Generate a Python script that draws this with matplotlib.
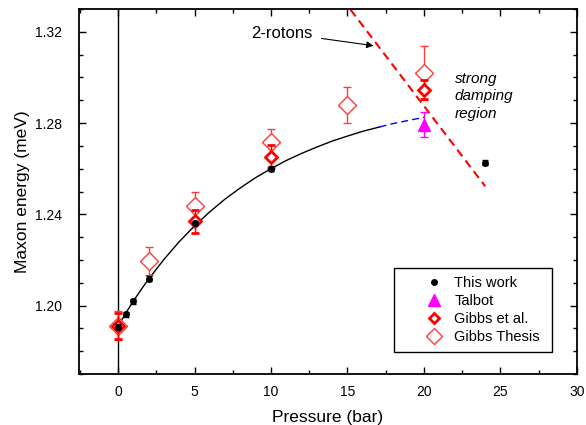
import matplotlib
matplotlib.use('Agg')
import matplotlib.pyplot as plt
from matplotlib.lines import Line2D
from matplotlib.ticker import MultipleLocator, FormatStrFormatter

plt.rcParams['font.family'] = ['Liberation Sans', 'DejaVu Sans']

# This work
work_p = [0, 0.5, 1, 2, 5, 10, 24]
work_e = [1.1908, 1.1962, 1.2019, 1.2118, 1.2361, 1.2600, 1.2627]
work_err = [0.001, 0.001, 0.001, 0.001, 0.001, 0.001, 0.001]

# Talbot
talbot_p = [20]
talbot_e = [1.2793]
talbot_err = [0.0056]

# Gibbs et al.
gibbs_p = [0, 5, 10, 20]
gibbs_e = [1.1911, 1.2369, 1.2653, 1.2947]
gibbs_err = [0.0057, 0.005, 0.005, 0.004]

# Gibbs Thesis
thesis_p = [0, 2, 5, 10, 15, 20]
thesis_e = [1.1911, 1.2196, 1.2437, 1.2715, 1.2879, 1.3020]
thesis_err = [0.0063, 0.006, 0.006, 0.006, 0.008, 0.012]

# fit curve (solid part) and its extrapolation (dashed blue)
fit_p = [0, 0.5, 1, 1.5, 2, 3, 4, 5, 6, 7, 8, 9, 10, 11, 12, 13, 14, 15, 16, 17.1]
fit_e = [1.1910, 1.1966, 1.2019, 1.2069, 1.2116, 1.2202, 1.2280, 1.2349, 1.2411,
         1.2467, 1.2516, 1.2561, 1.2600, 1.2636, 1.2667, 1.2695, 1.2721, 1.2743,
         1.2764, 1.2783]
ext_p = [17.1, 18, 19, 20]
ext_e = [1.2783, 1.2798, 1.2812, 1.2825]

# 2-roton line
rotons_p = [15.2, 24.0]
rotons_e = [1.3297, 1.2523]

fig = plt.figure(figsize=(5.86, 4.25), dpi=100)
ax = fig.add_axes([0.1348, 0.12, 0.8498, 0.8588])

ax.axvline(0, color='black', lw=1)
ax.plot(fit_p, fit_e, color='black', lw=1)
ax.plot(ext_p, ext_e, color='blue', lw=1, dashes=(5, 3))
ax.plot(rotons_p, rotons_e, color='red', lw=1.5, dashes=(4, 2.5))

thesis_col = '#ff3b3b'
ax.errorbar(thesis_p, thesis_e, yerr=thesis_err, fmt='D', ms=9.5, mfc='white',
            mec=thesis_col, mew=1, color=thesis_col, ecolor=thesis_col,
            elinewidth=1, capsize=3, capthick=1, zorder=3)
ax.errorbar(gibbs_p, gibbs_e, yerr=gibbs_err, fmt='D', ms=6, mfc='white',
            mec='red', mew=2, ecolor='red', elinewidth=1, capsize=3,
            capthick=1, zorder=4)
ax.errorbar(talbot_p, talbot_e, yerr=talbot_err, fmt='^', ms=8, color='magenta',
            ecolor='magenta', elinewidth=1, capsize=3, capthick=1, zorder=5)
ax.errorbar(work_p, work_e, yerr=work_err, fmt='o', ms=4, color='black',
            ecolor='black', elinewidth=1, capsize=2.5, capthick=1, zorder=6)

ax.text(10.72, 1.3192, '2-rotons', fontsize=12, ha='center', va='center')
ax.annotate('', xy=(16.7, 1.3139), xytext=(13.3, 1.3171),
            arrowprops=dict(arrowstyle='-|>', color='black', lw=0.8,
                            mutation_scale=10, shrinkA=0, shrinkB=0))
ax.text(22.0, 1.2917, 'strong\ndamping\nregion', fontsize=11, style='italic',
        ha='left', va='center', linespacing=1.3)

ax.set_xlim(-2.55, 30)
ax.set_ylim(1.17, 1.33)
ax.xaxis.set_major_locator(MultipleLocator(5))
ax.xaxis.set_minor_locator(MultipleLocator(2.5))
ax.yaxis.set_major_locator(MultipleLocator(0.04))
ax.yaxis.set_minor_locator(MultipleLocator(0.01))
ax.yaxis.set_major_formatter(FormatStrFormatter('%.2f'))
ax.tick_params(which='both', direction='in', top=True, right=True, width=1)
ax.tick_params(which='major', length=5, labelsize=10)
ax.tick_params(axis='y', which='major', pad=12)
ax.tick_params(axis='x', which='major', pad=8)
ax.tick_params(which='minor', length=3)
for s in ax.spines.values():
    s.set_linewidth(1.3)

ax.set_xlabel('Pressure (bar)', fontsize=12.5, labelpad=8)
ax.set_ylabel('Maxon energy (meV)', fontsize=12.5, labelpad=4)

handles = [
    Line2D([], [], ls='none', marker='o', ms=4, color='black'),
    Line2D([], [], ls='none', marker='^', ms=8, color='magenta'),
    Line2D([], [], ls='none', marker='D', ms=5, mfc='white', mec='red', mew=2),
    Line2D([], [], ls='none', marker='D', ms=8, mfc='white', mec=thesis_col, mew=1),
]
labels = ['This work', 'Talbot', 'Gibbs et al.', 'Gibbs Thesis']
leg = ax.legend(handles, labels, loc='lower left',
                bbox_to_anchor=(0.6325, 0.0603, 0.3173, 0.1), mode='expand',
                borderaxespad=0, fontsize=10.5, fancybox=False, framealpha=1,
                edgecolor='black', labelspacing=0.28, handlelength=4.4,
                handletextpad=-0.8, borderpad=0.55)
leg.get_frame().set_linewidth(1)

fig.savefig('out.png', dpi=100)
